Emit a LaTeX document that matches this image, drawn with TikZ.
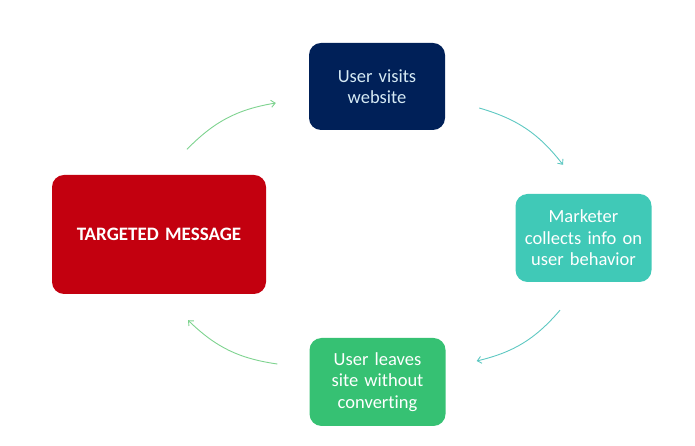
\documentclass[tikz,border=0pt]{standalone}
\usepackage{fontspec}
\setmainfont{Carlito}[Ligatures={NoCommon,NoRequired,NoContextual}]
\usepackage{xcolor}
\usepackage{tikz}
\usetikzlibrary{positioning,arrows.meta}
\definecolor{CNavy}{HTML}{002058}
\definecolor{CTeal}{HTML}{40C9B7}
\definecolor{CGreen}{HTML}{36C173}
\definecolor{CRed}{HTML}{C3000F}
\definecolor{CPale}{HTML}{D6EAF4}
\definecolor{CLineG}{HTML}{7ED38F}
\definecolor{CLineT}{HTML}{5EC8C2}

\begin{document}
\begin{tikzpicture}[x=1pt,y=1pt,
  every node/.style={align=center},
  stagebox/.style={rounded corners=12pt, minimum width=136pt, minimum height=88pt,
    inner sep=2pt, text width=132pt, font=\fontsize{18.5}{21.5}\selectfont, text=white},
  flow/.style={line width=0.9pt, -{Straight Barb[length=4pt,width=7pt]}, bend left=18}]
  \useasboundingbox (0,0) rectangle (695,446);
  % the four stages of the loop
  \node[stagebox, fill=CNavy, text=CPale, minimum width=134pt, minimum height=87pt] (visit) at (377,359.5) {User visits\\website};
  \node[stagebox, fill=CTeal]  (market) at (583.5,208) {Marketer\\collects info on\\user behavior};
  \node[stagebox, fill=CGreen] (leave)  at (377.5,64) {User leaves\\site without\\converting};
  \node[stagebox, fill=CRed, minimum width=214pt, minimum height=119pt, text width=208pt,
        font=\fontsize{19}{22}\selectfont\bfseries] (tm) at (159,211.5) {TARGETED MESSAGE};
  % arrows round the loop
  \draw[flow, CLineG] ([xshift=28pt,yshift=25.5pt]tm.north) to ([xshift=-33pt,yshift=-16.5pt]visit.west);
  \draw[flow, CLineT] ([xshift=34pt,yshift=-21.5pt]visit.east) to ([xshift=-20.5pt,yshift=29pt]market.north);
  \draw[flow, CLineT] ([xshift=-23.5pt,yshift=-28pt]market.south) to ([xshift=31pt,yshift=21pt]leave.east);
  \draw[flow, CLineG] ([xshift=-32pt,yshift=18pt]leave.west) to ([xshift=29pt,yshift=-26pt]tm.south);
\end{tikzpicture}
\end{document}
